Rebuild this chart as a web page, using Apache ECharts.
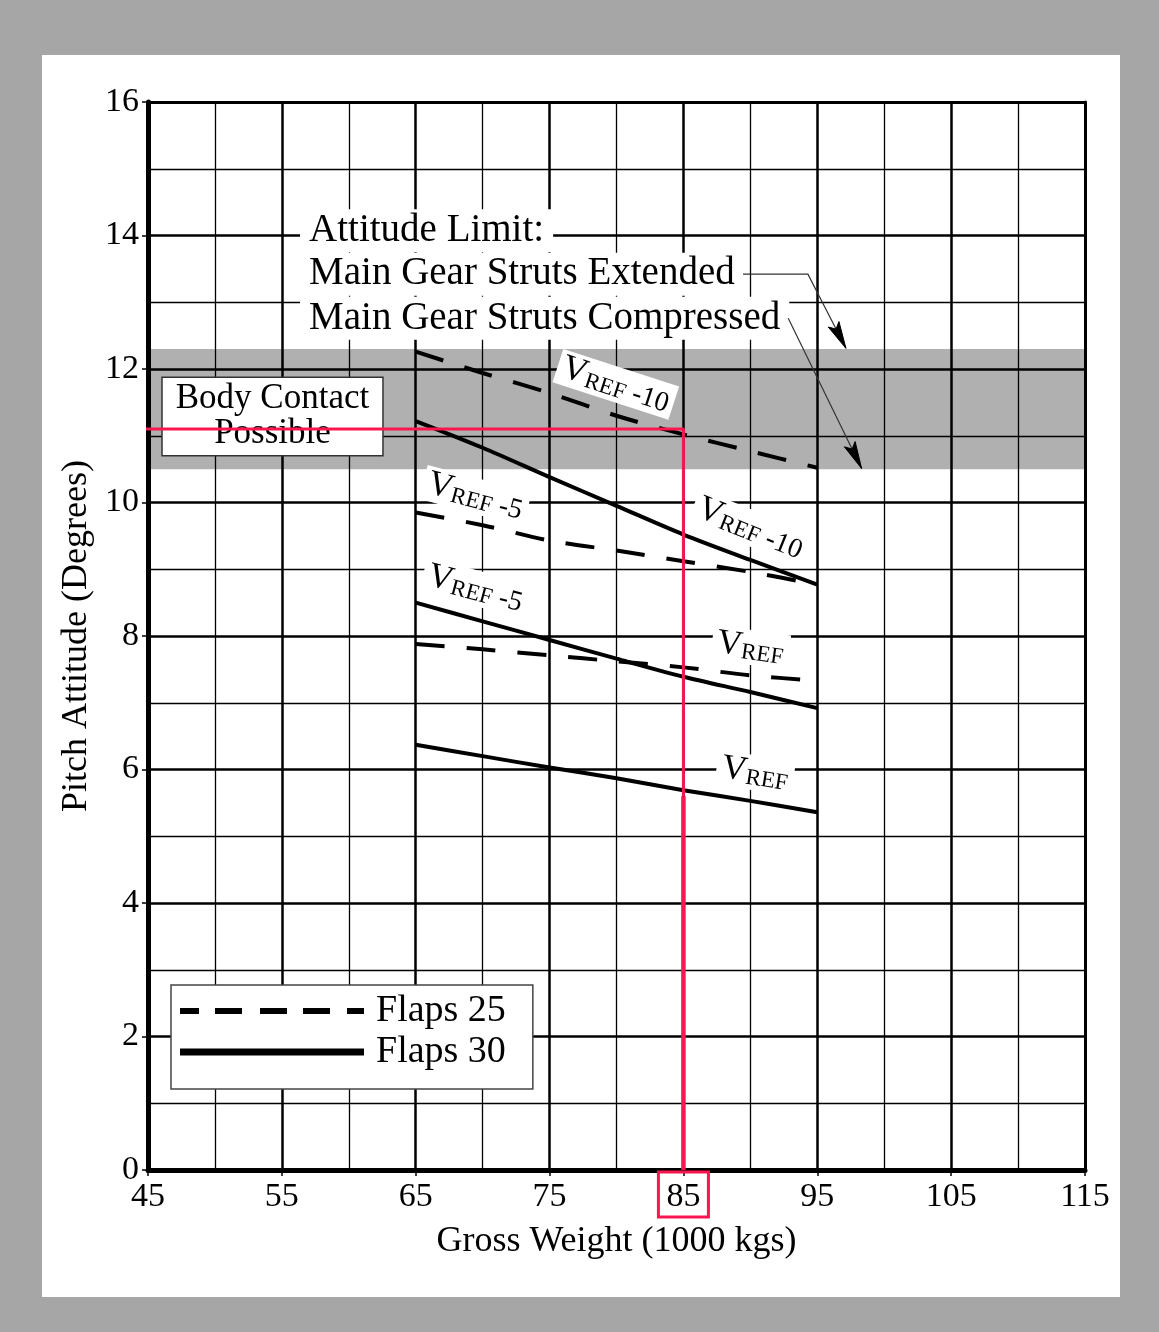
<!DOCTYPE html>
<html>
<head>
<meta charset="utf-8">
<script src="https://cdn.jsdelivr.net/npm/echarts@6/dist/echarts.min.js"></script>
<style>
  html, body { margin: 0; padding: 0; background: #a6a6a6; width: 1159px; height: 1332px; overflow: hidden; }
  #panel { position: absolute; left: 42px; top: 55px; width: 1078px; height: 1242px; background: #ffffff; }
  #chart { position: absolute; left: 0; top: 0; width: 1159px; height: 1332px; }
</style>
</head>
<body>
<div id="panel"></div>
<div id="chart"></div>
<script>
// ---------------- data ----------------
const xTicks = [45, 55, 65, 75, 85, 95, 105, 115];
const yTicks = [0, 2, 4, 6, 8, 10, 12, 14, 16];
const highlightedTick = 85;

const grossWeight = [65, 70, 75, 80, 85, 90, 95];
const flaps25Vref10 = [12.26, 11.94, 11.64, 11.30, 11.02, 10.77, 10.52];
const flaps25Vref5  = [9.85, 9.66, 9.43, 9.28, 9.12, 8.96, 8.77];
const flaps25Vref   = [7.88, 7.80, 7.71, 7.62, 7.53, 7.41, 7.33];
const flaps30Vref10 = [11.22, 10.82, 10.38, 9.95, 9.52, 9.14, 8.77];
const flaps30Vref5  = [8.50, 8.22, 7.94, 7.66, 7.39, 7.16, 6.92];
const flaps30Vref   = [6.37, 6.20, 6.03, 5.87, 5.69, 5.53, 5.36];

const attitudeLimitBand = [10.5, 12.3];   // struts compressed .. struts extended
const exampleWeight = 85;
const exampleAttitude = 11.1;

const seriesNames = ['Flaps 25', 'Flaps 30'];
const curveSpeeds = ['-10', '-10', '-5', '-5', '', ''];
const annotationLines = ['Attitude Limit:', 'Main Gear Struts Extended', 'Main Gear Struts Compressed'];
const bodyContactText = 'Body Contact\nPossible';

// ---------------- layout (annotation placement) ----------------
const FONT = '"Liberation Serif", "Times New Roman", Times, serif';
const curveLabelAt = [[79.95, 11.77], [90.0, 9.62], [69.45, 10.1], [69.45, 8.72], [90.0, 7.83], [90.35, 5.95]];
const curveLabelRotate = [-18, -22, -15, -15, -8, -9];
const annotationAt = [[56.36, 14.07], [56.36, 13.42], [56.36, 12.76]];
const bodyContactAt = [54.3, 11.29];
const redStartX = 44.25;
const redSplitY = 5.6;
const arrowPaths = [
  [[89.45, 13.42], [94.3, 13.42], [97.14, 12.31]],
  [[92.83, 12.76], [98.31, 10.51]]
];

const DASH = [29, 22];
const pairs = (ys) => grossWeight.map((x, i) => [x, ys[i]]);

function curve(name, ys, dashed) {
  return {
    type: 'line', name: name, data: pairs(ys), symbol: 'none', smooth: 0.3, z: 3, silent: true,
    lineStyle: { color: '#000', width: 4, type: dashed ? DASH : 'solid', cap: 'butt' },
    itemStyle: { color: '#000' }
  };
}

const chart = echarts.init(document.getElementById('chart'), null, { renderer: 'canvas' });

const labelRich = {
  v: { fontFamily: FONT, fontSize: 35, lineHeight: 35, color: '#000', verticalAlign: 'top', padding: [0, 0, 9, 0] },
  s: { fontFamily: FONT, fontSize: 23, lineHeight: 23, color: '#000', verticalAlign: 'bottom' },
  n: { fontFamily: FONT, fontSize: 28, lineHeight: 27, color: '#000', verticalAlign: 'bottom' }
};

const dashIcon = 'path://M0 0H19V6H0Z M35 0H62V6H35Z M80 0H107V6H80Z M123 0H150V6H123Z M167 0H184V6H167Z';

const labelHost = { color: 'rgba(0,0,0,0)', opacity: 1 };

const option = {
  animation: false,
  textStyle: { fontFamily: FONT },
  grid: { left: 148, top: 102, width: 937, height: 1068, containLabel: false },
  xAxis: [{
    type: 'value', min: xTicks[0], max: xTicks[xTicks.length - 1], interval: xTicks[1] - xTicks[0],
    position: 'bottom', z: 2,
    name: 'Gross Weight (1000 kgs)', nameLocation: 'middle', nameGap: 54,
    nameTextStyle: { fontFamily: FONT, fontSize: 36, color: '#000' },
    axisLine: { show: true, onZero: false, lineStyle: { color: '#000', width: 5 } },
    axisTick: { show: true, length: 6, lineStyle: { color: '#000', width: 1.5 } },
    minorTick: { show: false, splitNumber: 2 },
    splitLine: { show: true, lineStyle: { color: '#000', width: 2.5 } },
    minorSplitLine: { show: true, lineStyle: { color: '#000', width: 1.3 } },
    axisLabel: {
      margin: 2,
      formatter: (v) => (v === highlightedTick ? '{hl|' + v + '}' : '{n|' + v + '}'),
      rich: {
        n: { fontFamily: FONT, fontSize: 34, color: '#000', padding: [8, 8, 3, 8], borderWidth: 3, borderColor: 'rgba(0,0,0,0)' },
        hl: { fontFamily: FONT, fontSize: 34, color: '#000', padding: [8, 8, 3, 8], borderWidth: 3, borderColor: '#fb1651' }
      }
    }
  }, {
    type: 'value', min: xTicks[0], max: xTicks[xTicks.length - 1], position: 'top', z: 2,
    axisLine: { show: true, onZero: false, lineStyle: { color: '#000', width: 3 } },
    axisTick: { show: false }, axisLabel: { show: false }, splitLine: { show: false }
  }],
  yAxis: [{
    type: 'value', min: yTicks[0], max: yTicks[yTicks.length - 1], interval: yTicks[1] - yTicks[0],
    position: 'left', z: 2,
    name: 'Pitch Attitude (Degrees)', nameLocation: 'middle', nameGap: 52,
    nameTextStyle: { fontFamily: FONT, fontSize: 36, color: '#000' },
    axisLine: { show: true, onZero: false, lineStyle: { color: '#000', width: 5 } },
    axisTick: { show: true, length: 6, lineStyle: { color: '#000', width: 1.5 } },
    minorTick: { show: false, splitNumber: 2 },
    splitLine: { show: true, lineStyle: { color: '#000', width: 2.5 } },
    minorSplitLine: { show: true, lineStyle: { color: '#000', width: 1.3 } },
    axisLabel: { margin: 9, fontFamily: FONT, fontSize: 34, color: '#000' }
  }, {
    type: 'value', min: yTicks[0], max: yTicks[yTicks.length - 1], position: 'right', z: 2,
    axisLine: { show: true, onZero: false, lineStyle: { color: '#000', width: 3 } },
    axisTick: { show: false }, axisLabel: { show: false }, splitLine: { show: false }
  }],
  legend: {
    orient: 'vertical', left: 171, top: 985, padding: [6, 27, 17, 9], itemGap: 1,
    itemWidth: 184, itemHeight: 7, selectedMode: false,
    backgroundColor: '#fff', borderColor: '#444', borderWidth: 1.5, borderRadius: 0,
    textStyle: { fontFamily: FONT, fontSize: 38, lineHeight: 40, color: '#000', padding: [0, 0, 0, 7] },
    itemStyle: { color: '#000', borderWidth: 0 },
    data: [
      { name: seriesNames[0], icon: dashIcon },
      { name: seriesNames[1], icon: 'rect' }
    ]
  },
  series: [
    {
      type: 'line', name: 'band', data: [], z: 1, silent: true,
      markArea: {
        silent: true,
        itemStyle: { color: '#b0b0b0', opacity: 1 },
        data: [[{ xAxis: xTicks[0], yAxis: attitudeLimitBand[0] }, { xAxis: xTicks[xTicks.length - 1], yAxis: attitudeLimitBand[1] }]]
      }
    },
    curve(seriesNames[0], flaps25Vref10, true),
    curve(seriesNames[0], flaps25Vref5, true),
    curve(seriesNames[0], flaps25Vref, true),
    curve(seriesNames[1], flaps30Vref10, false),
    curve(seriesNames[1], flaps30Vref5, false),
    curve(seriesNames[1], flaps30Vref, false),
    {
      type: 'scatter', name: 'curveLabels', symbolSize: 0, z: 4, silent: true,
      itemStyle: labelHost,
      data: curveSpeeds.map((sp, i) => ({
        value: curveLabelAt[i],
        label: {
          rotate: curveLabelRotate[i],
          formatter: '{v|V}{s|REF}' + (sp ? '{n| ' + sp + '}' : '')
        }
      })),
      label: {
        show: true, position: 'inside', backgroundColor: '#fff', padding: [0, 5, 0, 5],
        color: '#000', textBorderWidth: 0, opacity: 1, rich: labelRich
      }
    },
    {
      type: 'scatter', name: 'annotation', symbolSize: 0, z: 4, silent: true,
      itemStyle: labelHost,
      data: annotationLines.map((t, i) => ({ value: annotationAt[i], label: { formatter: t } })),
      label: {
        show: true, position: 'right', distance: 0, backgroundColor: '#fff', padding: [1, 9, 1, 9],
        fontFamily: FONT, fontSize: 39, lineHeight: 41, color: '#000', textBorderWidth: 0, opacity: 1
      }
    },
    {
      type: 'scatter', name: 'bodyContact', symbolSize: 0, z: 4, silent: true,
      itemStyle: labelHost,
      data: [{ value: bodyContactAt, label: { formatter: bodyContactText } }],
      label: {
        show: true, position: 'inside', backgroundColor: '#fff', padding: [4, 13, 3, 13],
        borderColor: '#333', borderWidth: 1.5, align: 'center',
        fontFamily: FONT, fontSize: 35, lineHeight: 35, color: '#000', textBorderWidth: 0, opacity: 1
      }
    },
    {
      type: 'custom', name: 'arrows', coordinateSystem: 'cartesian2d', z: 5, silent: true, clip: false,
      data: arrowPaths.map((p) => p[p.length - 1]),
      renderItem: function (params, api) {
        const pts = arrowPaths[params.dataIndex].map((p) => api.coord(p));
        const n = pts.length;
        const tip = pts[n - 1], prev = pts[n - 2];
        const dx = tip[0] - prev[0], dy = tip[1] - prev[1];
        const len = Math.hypot(dx, dy);
        const ux = dx / len, uy = dy / len;
        const px = -uy, py = ux;
        const headLen = 27, headW = 6;
        const bx = tip[0] - ux * headLen, by = tip[1] - uy * headLen;
        return {
          type: 'group',
          children: [
            { type: 'polyline', shape: { points: pts }, style: { stroke: '#333', lineWidth: 1.2, fill: null } },
            { type: 'polygon', shape: { points: [tip, [bx + px * headW, by + py * headW], [tip[0] - ux * headLen * 0.8, tip[1] - uy * headLen * 0.8], [bx - px * headW, by - py * headW]] },
              style: { fill: '#000', stroke: '#000', lineWidth: 1 } }
          ]
        };
      }
    },
    {
      type: 'line', name: 'example', data: [[redStartX, exampleAttitude], [exampleWeight, exampleAttitude], [exampleWeight, redSplitY]],
      symbol: 'none', z: 6, silent: true, clip: false,
      lineStyle: { color: '#fb1651', width: 3 }
    },
    {
      type: 'line', name: 'example2', data: [[exampleWeight, redSplitY], [exampleWeight, yTicks[0]]],
      symbol: 'none', z: 6, silent: true, clip: false,
      lineStyle: { color: '#fb1651', width: 4.5 }
    }
  ]
};

chart.setOption(option);
</script>
</body>
</html>
